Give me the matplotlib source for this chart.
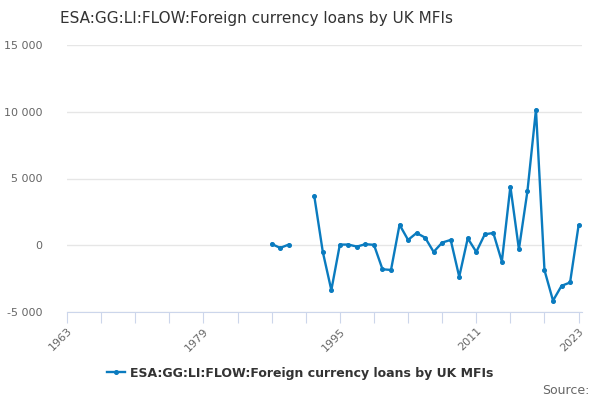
import numpy as np
import matplotlib.pyplot as plt
from matplotlib.ticker import FuncFormatter, MultipleLocator

# values (None = no data)
years = list(range(1987, 2024))
values = [100, -200, 50, None, None, 3680, -500, -3360, 50, 50, -100, 80, 30,
          -1800, -1850, 1540, 400, 920, 570, -500, 200, 400, -2360, 520, -500,
          820, 920, -1220, 4400, -300, 4050, 10150, -1870, -4150, -3040, -2790, 1490]
label_years = [1963, 1979, 1995, 2011, 2023]
series_name = "ESA:GG:LI:FLOW:Foreign currency loans by UK MFIs"

line_color = "#0a7bbf"
axis_color = "#ccd6eb"
text_color = "#666666"

y = np.array([np.nan if v is None else v for v in values], dtype=float)

fig = plt.figure(figsize=(6, 4), dpi=100)
ax = fig.add_axes([0.1117, 0.22, 0.8583, 0.6675])

for s in ["top", "right", "left"]:
    ax.spines[s].set_visible(False)
ax.spines["bottom"].set_color(axis_color)

ax.plot(years, y, color=line_color, linewidth=1.7, marker="o", markersize=2.6,
        label=series_name)

ax.set_xlim(1963, 2023.4)
ax.set_ylim(-5000, 15000)
ax.yaxis.set_major_locator(MultipleLocator(5000))
ax.yaxis.set_major_formatter(FuncFormatter(lambda v, p: f"{int(v):,}".replace(",", " ")))
ax.grid(axis="y", color="#e6e6e6", linewidth=1)
ax.set_axisbelow(True)

ticks = list(range(1963, 2024, 4))
ax.set_xticks(ticks)
ax.set_xticklabels([str(t) if t in label_years else "" for t in ticks],
                   rotation=45, ha="right", rotation_mode="anchor")
ax.tick_params(axis="x", length=8, color=axis_color, labelcolor=text_color,
               labelsize=8, pad=2)
ax.tick_params(axis="y", length=0, labelcolor=text_color, labelsize=8, pad=18)

fig.text(0.1, 0.953, series_name, fontsize=11, color="#333333", va="center")
fig.legend(loc="center", bbox_to_anchor=(0.5, 0.067), frameon=False,
           prop={"weight": "bold", "size": 9}, labelcolor="#333333",
           handlelength=1.4, handletextpad=0.4)
fig.text(0.983, 0.025, "Source:", fontsize=9, color=text_color, ha="right", va="center")

fig.savefig("out.png", dpi=100)
